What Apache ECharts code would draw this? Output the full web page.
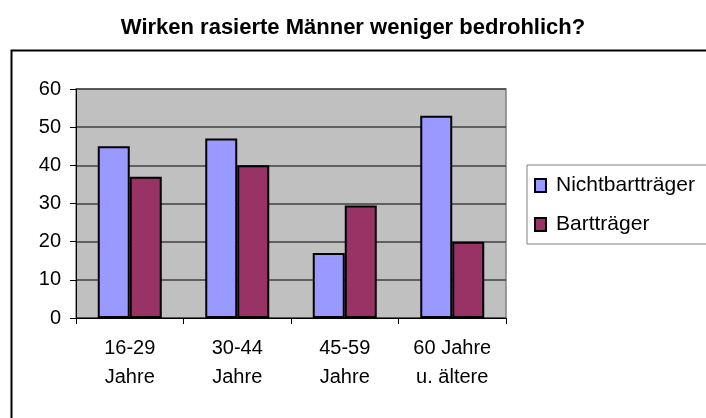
<!DOCTYPE html>
<html>
<head>
<meta charset="utf-8">
<script src="https://cdn.jsdelivr.net/npm/echarts@6/dist/echarts.min.js"></script>
<style>html,body{margin:0;padding:0;background:#fff;}#c{width:706px;height:418px;}</style>
</head>
<body>
<div id="c"></div>
<script>
const categories = ['16-29\nJahre', '30-44\nJahre', '45-59\nJahre', '60 Jahre\nu. ältere'];
const nichtbarttraeger = [45, 47, 17, 53];
const barttraeger = [37, 40, 29.5, 20];
const yTicks = { min: 0, max: 60, interval: 10 };
const FONT = '"Liberation Sans", Arial, sans-serif';

const chart = echarts.init(document.getElementById('c'), null, { renderer: 'canvas' });
chart.setOption({
  animation: false,
  backgroundColor: '#ffffff',
  textStyle: { fontFamily: FONT },
  title: {
    text: 'Wirken rasierte Männer weniger bedrohlich?',
    left: 'center', top: 12,
    textStyle: { fontFamily: FONT, fontSize: 22, fontWeight: 'bold', color: '#000' }
  },
  graphic: [{
    type: 'rect', z: -1,
    shape: { x: 11.5, y: 50.5, width: 760, height: 420 },
    style: { fill: 'none', stroke: '#000', lineWidth: 2 }
  }],
  legend: {
    orient: 'vertical',
    left: 527, top: 165,
    padding: [10, 40, 9, 7],
    borderColor: '#808080', borderWidth: 1,
    backgroundColor: '#fff',
    itemWidth: 11, itemHeight: 13, itemGap: 18,
    icon: 'rect',
    itemStyle: { borderColor: '#000', borderWidth: 2 },
    textStyle: { fontFamily: FONT, fontSize: 21, color: '#000', lineHeight: 20, padding: [0, 0, 0, 5] },
    data: ['Nichtbartträger', 'Bartträger']
  },
  grid: {
    left: 76, top: 89, width: 430, height: 229,
    show: true, backgroundColor: '#C0C0C0', borderColor: '#808080', borderWidth: 1.5
  },
  xAxis: {
    type: 'category', data: categories,
    axisLine: { show: true, lineStyle: { color: '#000', width: 1 } },
    axisTick: { show: true, length: 6, alignWithLabel: false, lineStyle: { color: '#000' } },
    axisLabel: { fontFamily: FONT, fontSize: 20, color: '#000', margin: 16, lineHeight: 29, interval: 0 },
    splitLine: { show: false }
  },
  yAxis: {
    type: 'value', min: yTicks.min, max: yTicks.max, interval: yTicks.interval,
    axisLine: { show: true, lineStyle: { color: '#000', width: 1 } },
    axisTick: { show: true, length: 6, lineStyle: { color: '#000' } },
    axisLabel: { fontFamily: FONT, fontSize: 20, color: '#000', margin: 15 },
    splitLine: { show: true, lineStyle: { color: '#404040', width: 1.5 } }
  },
  series: [
    {
      name: 'Nichtbartträger', type: 'bar', data: nichtbarttraeger,
      barWidth: 32, barGap: '0%',
      itemStyle: { color: '#9999FF', borderColor: '#000', borderWidth: 2 }
    },
    {
      name: 'Bartträger', type: 'bar', data: barttraeger,
      barWidth: 32, barGap: '0%',
      itemStyle: { color: '#993366', borderColor: '#000', borderWidth: 2 }
    }
  ]
});
</script>
</body>
</html>
